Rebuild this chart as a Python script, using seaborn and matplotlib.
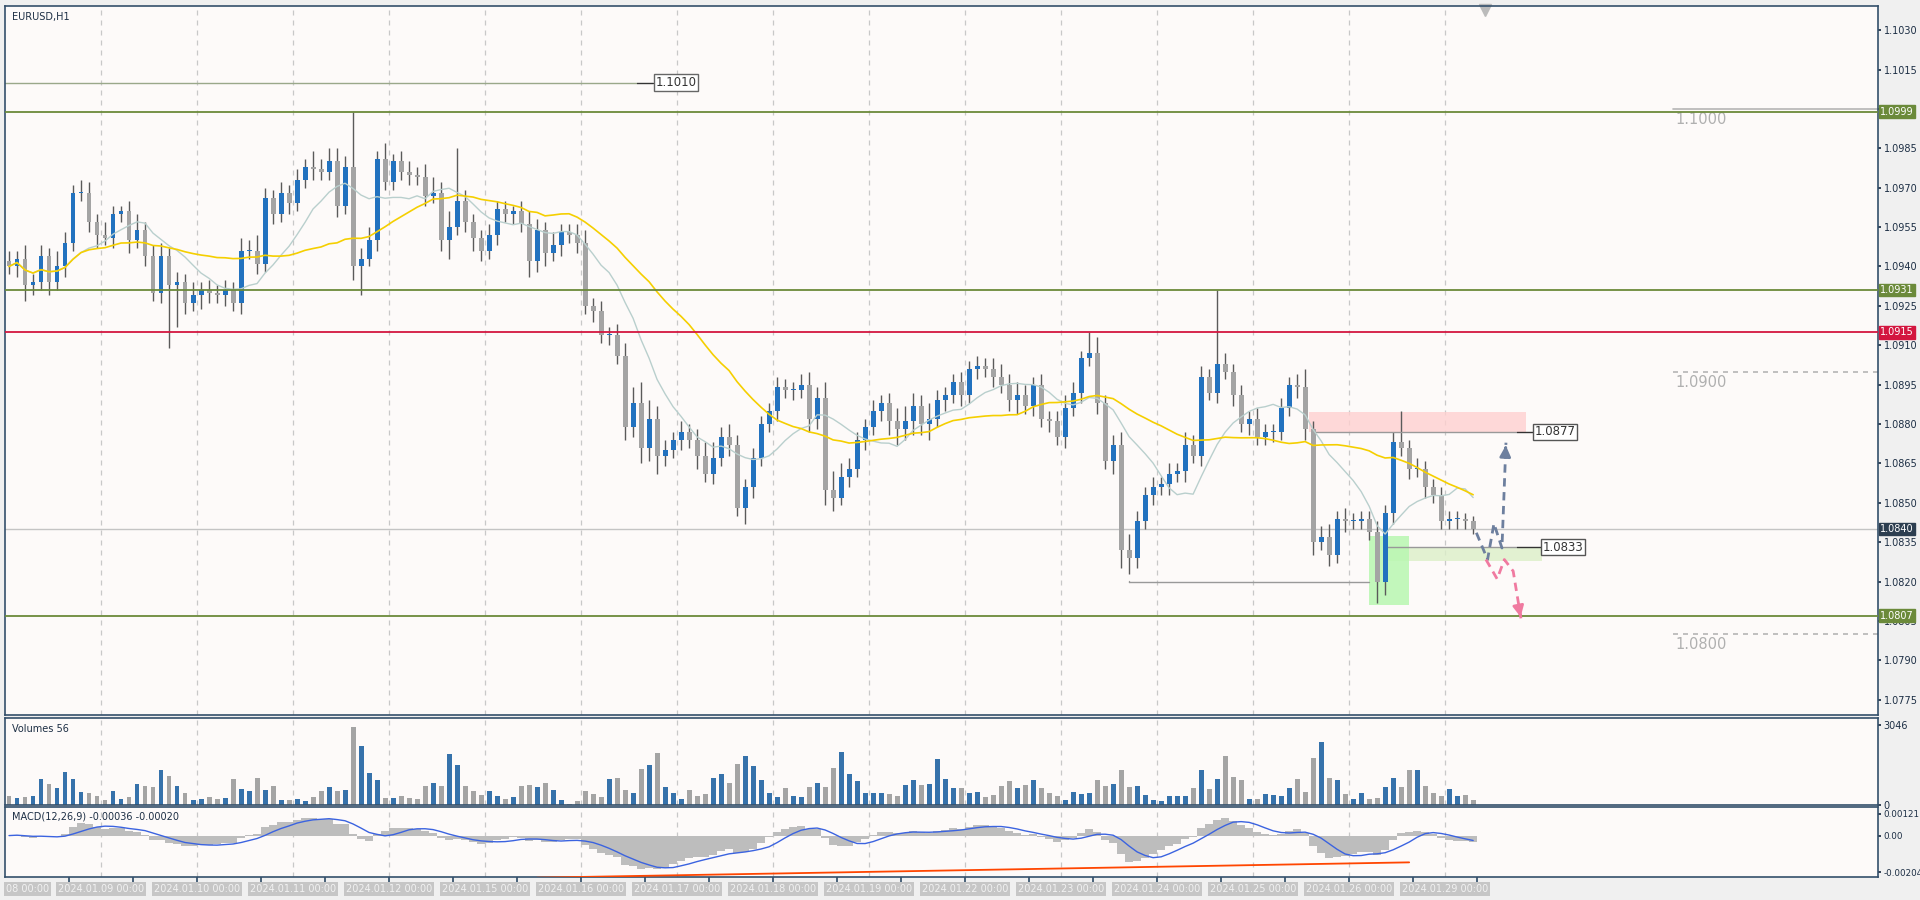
import matplotlib
matplotlib.use("Agg")
import matplotlib.pyplot as plt
import matplotlib.transforms as mtransforms
import numpy as np
import pandas as pd
import seaborn as sns

# ---- data (2-hour bars, prices in pips above 1.0800) ----
CLOSES = [
    140, 143, 133, 134, 144, 134, 140, 149, 168, 168, 157, 152, 151, 160, 161, 150, 154, 144, 130, 144,
    133, 134, 126, 129, 131, 130, 129, 131, 126, 146, 146, 141, 166, 160, 168, 164, 173, 178, 177, 176,
    180, 163, 178, 140, 143, 150, 181, 172, 180, 176, 175, 174, 167, 168, 150, 155, 165, 157, 151, 146,
    152, 162, 160, 161, 156, 142, 154, 145, 148, 153, 152, 149, 125, 123, 114, 114, 106, 79, 88, 71,
    82, 68, 70, 74, 77, 74, 68, 61, 67, 75, 72, 48, 56, 67, 80, 85, 94, 93, 93, 95,
    82, 90, 55, 52, 60, 63, 74, 79, 85, 88, 81, 78, 81, 87, 80, 82, 89, 91, 96, 91,
    101, 102, 101, 98, 95, 89, 91, 87, 95, 82, 81, 75, 86, 92, 105, 107, 88, 66, 72, 32,
    29, 43, 53, 56, 57, 61, 62, 72, 68, 98, 92, 103, 100, 91, 80, 82, 75, 77, 77, 86,
    95, 94, 78, 35, 37, 30, 44, 43, 43, 44, 39, 20, 46, 73, 71, 63, 63, 56, 53, 43,
    44, 44, 43, 40,
]
FIRST_OPEN = 142
UPPER_WICK = [
    4, 3, 5, 3, 4, 3, 6, 4, 3, 5, 4, 3, 5, 3, 2, 4, 6, 3, 4, 5,
    3, 4, 3, 5, 3, 4, 3, 4, 3, 5, 4, 6, 4, 3, 4, 3, 4, 3, 6, 4,
    5, 5, 4, 21, 4, 5, 3, 6, 3, 4, 4, 3, 5, 6, 4, 6, 20, 4, 3, 3,
    4, 3, 3, 2, 4, 5, 4, 3, 5, 3, 3, 4, 5, 3, 4, 3, 4, 5, 6, 8,
    7, 5, 4, 3, 4, 3, 4, 5, 6, 4, 5, 4, 3, 4, 3, 3, 4, 3, 3, 4,
    5, 4, 6, 7, 5, 4, 3, 3, 4, 3, 4, 5, 6, 5, 4, 6, 4, 3, 3, 4,
    3, 4, 3, 4, 5, 4, 5, 4, 3, 4, 3, 4, 5, 4, 3, 8, 6, 3, 4, 5,
    6, 4, 3, 4, 3, 4, 3, 5, 4, 4, 3, 28, 4, 3, 4, 3, 4, 3, 3, 4,
    3, 4, 7, 3, 4, 5, 3, 4, 3, 3, 3, 4, 3, 4, 12, 3, 4, 3, 3, 3,
    3, 3, 2, 2,
]
LOWER_WICK = [
    3, 4, 6, 4, 3, 5, 3, 4, 3, 3, 4, 5, 3, 4, 3, 5, 3, 4, 3, 4,
    24, 16, 4, 3, 5, 4, 3, 4, 3, 4, 3, 4, 3, 4, 3, 4, 3, 3, 4, 3,
    3, 4, 3, 5, 11, 3, 4, 3, 3, 3, 4, 3, 4, 3, 4, 7, 3, 4, 5, 4,
    3, 4, 3, 4, 3, 6, 4, 5, 3, 4, 3, 4, 3, 4, 3, 4, 3, 5, 4, 6,
    5, 7, 4, 3, 4, 3, 5, 3, 4, 3, 4, 3, 6, 4, 3, 3, 4, 3, 4, 3,
    5, 4, 6, 5, 3, 4, 3, 4, 3, 4, 5, 6, 4, 5, 4, 6, 3, 4, 3, 4,
    3, 4, 3, 4, 3, 4, 5, 3, 4, 3, 4, 3, 4, 3, 4, 3, 4, 3, 5, 7,
    6, 4, 3, 4, 3, 4, 3, 4, 3, 4, 3, 4, 3, 4, 3, 4, 3, 3, 4, 3,
    3, 4, 4, 5, 3, 4, 3, 4, 3, 3, 3, 8, 5, 4, 3, 4, 3, 4, 3, 3,
    3, 4, 3, 2,
]
VOLUMES = [
    335, 270, 300, 335, 990, 810, 635, 1240, 1000, 510, 460, 330, 180, 540, 240, 290, 810, 720, 670, 1340,
    1110, 720, 470, 180, 230, 290, 230, 270, 1000, 600, 530, 1040, 580, 720, 180, 200, 240, 170, 290, 520,
    670, 530, 570, 2940, 2240, 1230, 950, 250, 270, 335, 270, 210, 720, 820, 710, 1930, 1500, 730, 520, 370,
    540, 360, 230, 290, 720, 760, 700, 840, 570, 190, 50, 160, 550, 400, 320, 980, 1020, 580, 460, 1350,
    1520, 1990, 700, 460, 230, 570, 340, 400, 1040, 1180, 850, 1550, 1870, 1470, 950, 460, 300, 650, 360, 300,
    670, 850, 670, 1400, 2020, 1160, 900, 470, 440, 460, 400, 340, 770, 950, 750, 800, 1760, 1000, 650, 660,
    470, 510, 300, 370, 710, 920, 630, 770, 940, 660, 450, 350, 190, 500, 430, 470, 930, 720, 790, 1320,
    690, 730, 390, 200, 140, 360, 340, 360, 630, 1330, 590, 990, 1860, 1050, 960, 210, 230, 400, 380, 350,
    650, 970, 510, 1790, 2390, 1030, 930, 430, 240, 450, 210, 260, 700, 1020, 670, 1330, 1330, 720, 470, 340,
    590, 340, 380, 180,
]
DAY_LABELS = ["08 00:00", "2024.01.09 00:00", "2024.01.10 00:00", "2024.01.11 00:00",
              "2024.01.12 00:00", "2024.01.15 00:00", "2024.01.16 00:00", "2024.01.17 00:00",
              "2024.01.18 00:00", "2024.01.19 00:00", "2024.01.22 00:00", "2024.01.23 00:00",
              "2024.01.24 00:00", "2024.01.25 00:00", "2024.01.26 00:00", "2024.01.29 00:00"]

LEVELS_GREEN = [1.0999, 1.0931, 1.0807]
LEVEL_RED = 1.0915
LEVEL_BID = 1.0840
LEVEL_1010 = 1.1010
ROUND_LEVELS = [1.1000, 1.0900, 1.0800]
SUPPLY_ZONE = (1.08770, 1.08845)
DEMAND_ZONE = (1.08277, 1.08331)
DEMAND_BOX = (1.08112, 1.08373)
LOW_LINE = 1.0820
# projected scenario paths (bar index, price)
PATH_UP_X = [183.4, 184.8, 185.6, 186.6, 187.1]
PATH_UP_Y = [1.08386, 1.08284, 1.08421, 1.08328, 1.08729]
PATH_DN_X = [184.6, 186.0, 186.9, 188.0, 189.0]
PATH_DN_Y = [1.08284, 1.08210, 1.08284, 1.08240, 1.08055]
MACD_TREND_X = [66, 175]
MACD_TREND_Y = [-0.00236, -0.00150]

# ---- derived series ----
n = len(CLOSES)
close = 1.08 + np.array(CLOSES) / 1e4
opn = np.concatenate([[1.08 + FIRST_OPEN / 1e4], close[:-1]])
high = np.maximum(opn, close) + np.array(UPPER_WICK) / 1e4
low = np.minimum(opn, close) - np.array(LOWER_WICK) / 1e4
up = close >= opn
idx = np.arange(n)
df = pd.DataFrame({"i": idx, "close": close, "vol": VOLUMES,
                   "dir": np.where(up, "up", "down")})
df["ma_fast"] = df["close"].rolling(10, min_periods=1).mean()
df["ma_slow"] = df["close"].rolling(25, min_periods=1).mean()
ema_f = df["close"].ewm(span=6, adjust=False).mean()
ema_s = df["close"].ewm(span=13, adjust=False).mean()
df["macd"] = ema_f - ema_s
df["signal"] = df["macd"].rolling(5, min_periods=1).mean()

BLUE = "#2272bf"
GRAY = "#a4a4a4"
BG = "#fdfaf9"
FRAME = "#34506b"
TXT = "#1c2e44"
OLIVE = "#6b8a3a"
FS = 7

sns.set_theme(style="white")
plt.rcParams["font.family"] = ["DejaVu Sans"]
fig = plt.figure(figsize=(19.2, 9), dpi=100, facecolor="#f0f0f0")
W, H = 1920, 900


def pax(top, bottom):
    ax = fig.add_axes([5 / W, 1 - bottom / H, (1878 - 5) / W, (bottom - top) / H])
    ax.set_facecolor(BG)
    for s in ax.spines.values():
        s.set_color(FRAME)
        s.set_linewidth(1.2)
    ax.yaxis.tick_right()
    ax.tick_params(axis="y", labelsize=FS, colors=TXT, length=2.5, pad=1.5, direction="out")
    ax.set_xlim(-0.5, 233.6)
    ax.set_xticks([])
    return ax


ax = pax(6, 715)
axv = pax(718, 805)
axm = pax(807, 877)

for a in (ax, axv, axm):
    for k in range(1, 16):
        a.axvline(12 * k - 0.5, color="#c8c8c8", lw=0.9, ls=(0, (4, 4)), zorder=0)

# main panel
ax.set_ylim(1.07692, 1.10392)
ax.set_yticks(np.round(np.arange(1.0775, 1.1031, 0.0015), 4))
ax.yaxis.set_major_formatter(matplotlib.ticker.FormatStrFormatter("%.4f"))

ax.vlines(idx, low, high, color="#5a5a5a", lw=1.0, zorder=2)
body_b = np.minimum(opn, close)
body_h = np.maximum(np.abs(close - opn), 0.00004)
ax.bar(idx, body_h, bottom=body_b, width=0.62,
       color=[BLUE if u else GRAY for u in up], zorder=3, linewidth=0)
sns.lineplot(data=df, x="i", y="ma_fast", ax=ax, color="#b9cfcd", lw=1.0, zorder=4)
sns.lineplot(data=df, x="i", y="ma_slow", ax=ax, color="#f5cf00", lw=1.2, zorder=4)
ax.set_xlabel("")
ax.set_ylabel("")

ytr = mtransforms.blended_transform_factory(ax.transAxes, ax.transData)


def price_tag(lv, fc):
    ax.text(1.0012, lv, f"{lv:.4f}", transform=ytr, va="center", ha="left", fontsize=FS,
            color="white", bbox=dict(fc=fc, ec=fc, pad=1.0), clip_on=False, zorder=10)


for lv in LEVELS_GREEN:
    ax.axhline(lv, color=OLIVE, lw=1.3, zorder=5)
    price_tag(lv, OLIVE)
ax.axhline(LEVEL_RED, color="#d3163f", lw=1.3, zorder=5)
price_tag(LEVEL_RED, "#d3163f")
ax.axhline(LEVEL_BID, color="#c4c4c4", lw=1.0, zorder=1)
price_tag(LEVEL_BID, "#2c3e50")

ax.plot([-0.5, 78.5], [LEVEL_1010] * 2, color="#9aa88a", lw=1.0)
ax.plot([78.5, 80.5], [LEVEL_1010] * 2, color="#333333", lw=1.0)
ax.text(80.8, LEVEL_1010, "1.1010", va="center", ha="left", fontsize=8.5, color="#333333",
        bbox=dict(fc="white", ec="#666666", pad=1.3))

for lv in ROUND_LEVELS:
    ax.plot([208, 233.6], [lv, lv], color="#b5b5b5", lw=1.2,
            ls="-" if lv == 1.1000 else (0, (3, 3)))
    ax.text(208.3, lv - 0.00012, f"{lv:.4f}", va="top", ha="left", fontsize=10.5, color="#b0b0b0")

ax.fill_between([162.5, 189.6], SUPPLY_ZONE[0], SUPPLY_ZONE[1], color="#ffd0d0", alpha=0.8, lw=0, zorder=1)
ax.plot([163, 188.5], [SUPPLY_ZONE[0]] * 2, color="#999999", lw=1.0, zorder=2)
ax.plot([188.5, 190.5], [SUPPLY_ZONE[0]] * 2, color="#333333", lw=1.0)
ax.text(190.7, SUPPLY_ZONE[0], "1.0877", va="center", ha="left", fontsize=8.5, color="#333333",
        bbox=dict(fc="white", ec="#555555", pad=1.2))

ax.fill_between([172, 191.6], DEMAND_ZONE[0], DEMAND_ZONE[1], color="#dcefc8", alpha=0.8, lw=0, zorder=1)
ax.fill_between([170, 175], DEMAND_BOX[0], DEMAND_BOX[1], color="#b8f7b0", alpha=0.85, lw=0, zorder=1)
ax.plot([172, 188.5], [DEMAND_ZONE[1]] * 2, color="#999999", lw=1.0, zorder=2)
ax.plot([188.5, 191.5], [DEMAND_ZONE[1]] * 2, color="#333333", lw=1.0)
ax.text(191.7, DEMAND_ZONE[1], "1.0833", va="center", ha="left", fontsize=8.5, color="#333333",
        bbox=dict(fc="white", ec="#555555", pad=1.2))
ax.plot([140, 170], [LOW_LINE, LOW_LINE], color="#999999", lw=1.0, zorder=2)
ax.plot([140, 140], [LOW_LINE, LOW_LINE + 0.00003], color="#999999", lw=1.0)

ax.plot(PATH_UP_X, PATH_UP_Y, color="#6d7f9e", lw=2, ls=(0, (3, 2)), zorder=6)
ax.annotate("", xy=(PATH_UP_X[-1], PATH_UP_Y[-1]), xytext=(PATH_UP_X[-1] - 0.05, PATH_UP_Y[-1] - 0.0003),
            arrowprops=dict(arrowstyle="-|>", color="#6d7f9e", lw=2, mutation_scale=16))
ax.plot(PATH_DN_X, PATH_DN_Y, color="#f07aa0", lw=2, ls=(0, (3, 2)), zorder=6)
ax.annotate("", xy=(PATH_DN_X[-1], PATH_DN_Y[-1]), xytext=(PATH_DN_X[-1] - 0.2, PATH_DN_Y[-1] + 0.0003),
            arrowprops=dict(arrowstyle="-|>", color="#f07aa0", lw=2, mutation_scale=16))

ax.plot([184.5], [1.10375], marker="v", color="#bbbbbb", ms=9, clip_on=False)
ax.text(0.004, 0.992, "EURUSD,H1", transform=ax.transAxes, va="top", ha="left", fontsize=FS, color=TXT)

# volume panel
sns.barplot(data=df, x="i", y="vol", hue="dir", palette={"up": BLUE, "down": GRAY},
            native_scale=True, dodge=False, width=0.62, legend=False, ax=axv, linewidth=0)
axv.set_xlim(-0.5, 233.6)
axv.set_ylim(0, 3300)
axv.set_yticks([0, 3046])
axv.set_xlabel("")
axv.set_ylabel("")
axv.set_xticks([])
axv.text(0.004, 0.93, "Volumes 56", transform=axv.transAxes, va="top", ha="left", fontsize=FS, color=TXT)

# MACD panel
axm.bar(df["i"], df["macd"], width=1.0, color="#bdbdbd", linewidth=0, zorder=2)
sns.lineplot(data=df, x="i", y="signal", ax=axm, color="#3b63e0", lw=1.0, zorder=3)
axm.plot(MACD_TREND_X, MACD_TREND_Y, color="#ff4500", lw=1.3, zorder=3)
axm.set_xlim(-0.5, 233.6)
axm.set_ylim(-0.00232, 0.0016)
axm.set_yticks([-0.00204, 0.0, 0.00121])
axm.set_yticklabels(["-0.00204", "0.00", "0.00121"], fontsize=6.3)
axm.set_xlabel("")
axm.set_ylabel("")
axm.text(0.004, 0.94, "MACD(12,26,9) -0.00036 -0.00020", transform=axm.transAxes, va="top",
         ha="left", fontsize=FS, color=TXT)
axm.set_xticks([8 * k - 0.5 for k in range(1, 24)])
axm.set_xticklabels([])
axm.tick_params(axis="x", length=4, color=FRAME, direction="out", bottom=True)

xtr = mtransforms.blended_transform_factory(axm.transData, fig.transFigure)
for k, lab in enumerate(DAY_LABELS):
    xk = 12 * k - 0.5
    axm.text(xk if k else 2.3, 11 / H, lab, transform=xtr, ha="center", va="center",
             fontsize=FS, color="#f2f2f2", bbox=dict(fc="#c6c6c6", ec="none", pad=1.5), clip_on=False)

fig.savefig("out.png", dpi=100, facecolor=fig.get_facecolor())
